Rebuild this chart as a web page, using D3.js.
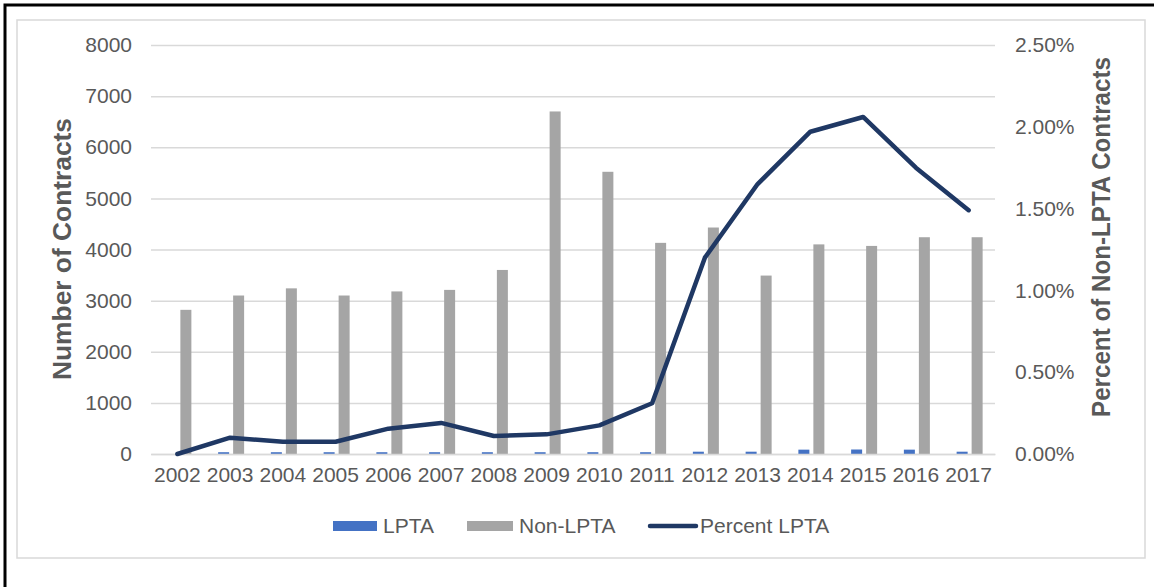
<!DOCTYPE html>
<html>
<head>
<meta charset="utf-8">
<script src="https://cdn.jsdelivr.net/npm/d3@7"></script>
<style>
  html, body { margin: 0; padding: 0; background: #fff; }
  svg { display: block; font-family: "Liberation Sans", Arial, sans-serif; }
</style>
</head>
<body>
<svg id="chart" width="1154" height="587"></svg>
<script>
const years = ["2002","2003","2004","2005","2006","2007","2008","2009","2010","2011","2012","2013","2014","2015","2016","2017"];
const lptaValues = [0, 35, 35, 35, 35, 35, 35, 35, 35, 35, 45, 45, 85, 88, 85, 45];
const nonLptaValues = [2820, 3100, 3240, 3100, 3180, 3210, 3600, 6700, 5520, 4130, 4430, 3490, 4100, 4070, 4240, 4240];
const percentLpta = [0, 0.0010, 0.00075, 0.00075, 0.00155, 0.0019, 0.0011, 0.0012, 0.00175, 0.0031, 0.0120, 0.0165, 0.0197, 0.0206, 0.0175, 0.0149];
const leftTicks = [0, 1000, 2000, 3000, 4000, 5000, 6000, 7000, 8000];
const rightTicks = [0, 0.005, 0.01, 0.015, 0.02, 0.025];
const seriesNames = ["LPTA", "Non-LPTA", "Percent LPTA"];

const colors = { lpta: "#4472c4", non: "#a5a5a5", line: "#1f3864", grid: "#d9d9d9", text: "#595959" };

const svg = d3.select("#chart");

// outer borders
svg.append("rect").attr("x", 5).attr("y", 5).attr("width", 1160).attr("height", 600)
  .attr("fill", "#fff").attr("stroke", "#000").attr("stroke-width", 3);
svg.append("rect").attr("x", 17).attr("y", 20).attr("width", 1128).attr("height", 538)
  .attr("fill", "#fff").attr("stroke", "#d9d9d9").attr("stroke-width", 1.5);

const x = d3.scaleBand().domain(years).range([151, 995]).padding(0);
const y = d3.scaleLinear().domain([0, 8000]).range([454, 45]);
const y2 = d3.scaleLinear().domain([0, 0.025]).range([454, 45]);

// gridlines via axis
const grid = svg.append("g").attr("transform", "translate(151,0)")
  .call(d3.axisLeft(y).tickValues(leftTicks).tickSize(-844).tickFormat(""));
grid.select(".domain").remove();
grid.selectAll("line").attr("stroke", colors.grid).attr("stroke-width", 1.5);

// left axis labels
const la = svg.append("g").attr("transform", "translate(132,0)")
  .call(d3.axisLeft(y).tickValues(leftTicks).tickSize(0).tickPadding(0).tickFormat(d3.format("d")));
la.select(".domain").remove();
la.selectAll("text").attr("fill", colors.text).attr("font-size", 21).attr("font-family", "Liberation Sans, Arial, sans-serif");

// right axis labels
const ra = svg.append("g").attr("transform", "translate(1015,0)")
  .call(d3.axisRight(y2).tickValues(rightTicks).tickSize(0).tickPadding(0).tickFormat(d3.format(".2%")));
ra.select(".domain").remove();
ra.selectAll("text").attr("fill", colors.text).attr("font-size", 21).attr("font-family", "Liberation Sans, Arial, sans-serif");

// bars
const bw = 11;
svg.append("g").selectAll("rect").data(years).join("rect")
  .attr("x", (d) => x(d) + x.bandwidth() / 2 + 3)
  .attr("width", bw)
  .attr("y", (d, i) => y(nonLptaValues[i]))
  .attr("height", (d, i) => y(0) - y(nonLptaValues[i]))
  .attr("fill", colors.non);
svg.append("g").selectAll("rect").data(years).join("rect")
  .attr("x", (d) => x(d) + x.bandwidth() / 2 - 12)
  .attr("width", bw)
  .attr("y", (d, i) => y(lptaValues[i]))
  .attr("height", (d, i) => y(0) - y(lptaValues[i]))
  .attr("fill", colors.lpta);

// x axis
const xa = svg.append("g").attr("transform", "translate(0,454)")
  .call(d3.axisBottom(x).tickSize(0).tickPadding(13));
xa.select(".domain").attr("stroke", colors.grid).attr("stroke-width", 1.5);
xa.selectAll("text").attr("fill", colors.text).attr("font-size", 21).attr("font-family", "Liberation Sans, Arial, sans-serif");

// line
const line = d3.line()
  .x((d, i) => x(years[i]) + x.bandwidth() / 2)
  .y((d) => y2(d));
svg.append("path").datum(percentLpta)
  .attr("d", line).attr("fill", "none")
  .attr("stroke", colors.line).attr("stroke-width", 4.5)
  .attr("stroke-linejoin", "round").attr("stroke-linecap", "round");

// axis titles
svg.append("text")
  .attr("transform", "translate(71,249) rotate(-90)")
  .attr("text-anchor", "middle")
  .attr("font-size", 25).attr("font-weight", "bold").attr("fill", colors.text)
  .attr("textLength", 262).attr("lengthAdjust", "spacingAndGlyphs")
  .text("Number of Contracts");
svg.append("text")
  .attr("transform", "translate(1110,237) rotate(-90)")
  .attr("text-anchor", "middle")
  .attr("font-size", 25).attr("font-weight", "bold").attr("fill", colors.text)
  .attr("textLength", 360).attr("lengthAdjust", "spacingAndGlyphs")
  .text("Percent of Non-LPTA Contracts");

// legend
const legend = svg.append("g");
const legY = 526;
legend.append("rect").attr("x", 333).attr("y", legY - 5).attr("width", 44).attr("height", 10).attr("fill", colors.lpta);
legend.append("text").attr("x", 383).attr("y", legY).attr("dy", "0.35em")
  .attr("font-size", 21).attr("fill", colors.text).text(seriesNames[0]);
legend.append("rect").attr("x", 467).attr("y", legY - 5).attr("width", 46).attr("height", 10).attr("fill", colors.non);
legend.append("text").attr("x", 519).attr("y", legY).attr("dy", "0.35em")
  .attr("font-size", 21).attr("fill", colors.text).text(seriesNames[1]);
legend.append("line").attr("x1", 650).attr("x2", 696).attr("y1", legY).attr("y2", legY)
  .attr("stroke", colors.line).attr("stroke-width", 4.5).attr("stroke-linecap", "round");
legend.append("text").attr("x", 700).attr("y", legY).attr("dy", "0.35em")
  .attr("font-size", 21).attr("fill", colors.text).text(seriesNames[2]);
</script>
</body>
</html>
